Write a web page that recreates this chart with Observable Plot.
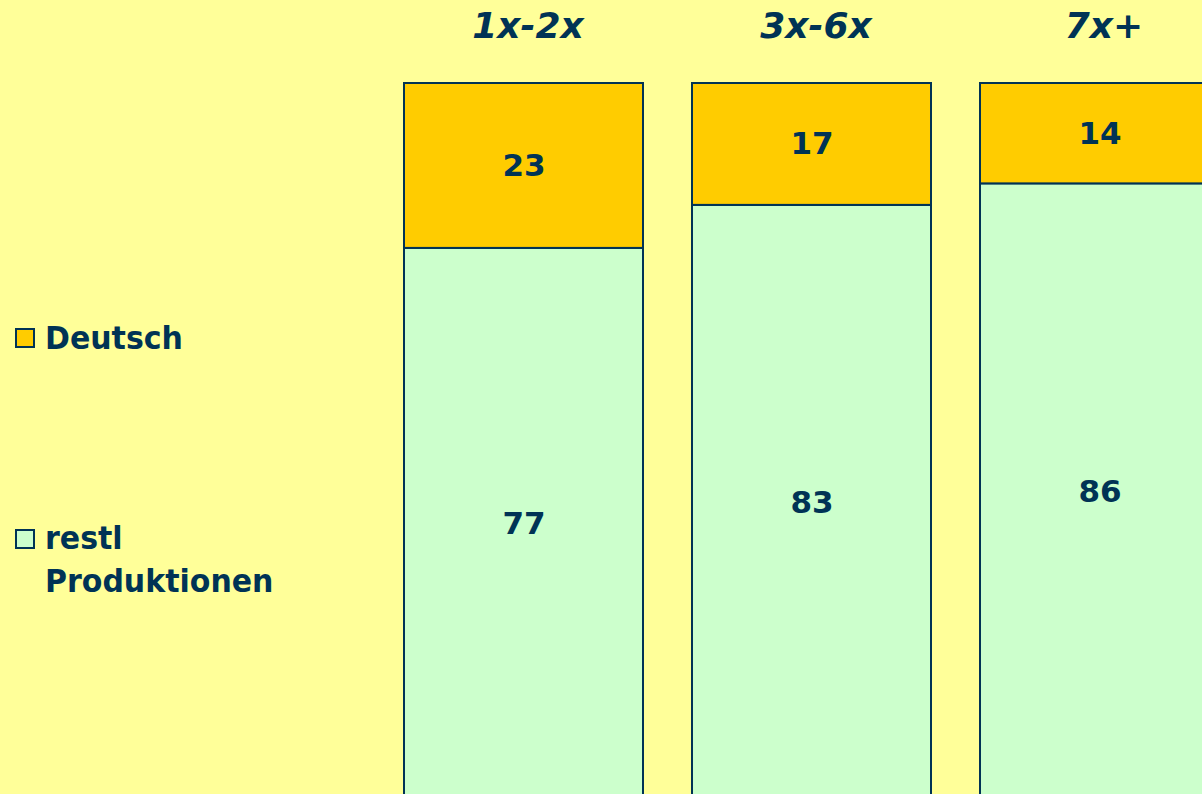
<!DOCTYPE html>
<html><head><meta charset="utf-8">
<script src="https://cdn.jsdelivr.net/npm/d3@7"></script>
<script src="https://cdn.jsdelivr.net/npm/@observablehq/plot@0.6"></script>
<style>
html,body{margin:0;padding:0;background:#FFFF99;overflow:hidden;width:1202px;height:794px}
#wrap{position:relative;width:1202px;height:794px}
.leg{position:absolute;left:0;font-family:"DejaVu Sans",sans-serif;font-weight:bold;color:#003355;font-size:30px;line-height:40px}
.leg .sw{position:absolute;left:15px;top:9px;width:16px;height:16px;border:2px solid #003355}
.leg .tx{position:absolute;left:45px;top:0;white-space:nowrap;transform:scaleY(1.05);transform-origin:0 50%}
#chart{position:absolute;left:0;top:0}
</style></head><body><div id="wrap"><div id="chart"></div></div>
<script>
const groups = ["1x-2x", "3x-6x", "7x+"];
const series = ["restl Produktionen", "Deutsch"];
const restl = [77, 83, 86];
const deutsch = [23, 17, 14];
const colors = ["#CCFFCC", "#FFCC00"];
const ink = "#003355";

const data = groups.flatMap((g, i) => [
  {group: g, series: series[0], value: restl[i]},
  {group: g, series: series[1], value: deutsch[i]}
]);

const plot = Plot.plot({
  width: 1202, height: 800, margin: 0,
  style: {background: "transparent", overflow: "visible"},
  x: {domain: groups, range: [379.5, 1243.5], paddingInner: 0.17, paddingOuter: 0.085, axis: null},
  y: {domain: [0, 100], range: [800, 83], axis: null},
  color: {domain: series, range: colors},
  marks: [
    Plot.barY(data, Plot.stackY({x: "group", y: "value", fill: "series", z: "series", stroke: ink, strokeWidth: 2})),
    Plot.text(data, Plot.stackY({x: "group", y: "value", z: "series", text: d => String(d.value),
      fill: ink, fontSize: 31, fontWeight: "bold", fontFamily: "DejaVu Sans"})),
    Plot.text(groups, {x: d => d, text: d => d, frameAnchor: "top", lineAnchor: "middle", dy: 26, dx: 4,
      fill: ink, fontSize: 36, fontWeight: "bold", fontStyle: "italic", fontFamily: "DejaVu Sans"})
  ]
});
document.getElementById("chart").appendChild(plot);

const wrap = document.getElementById("wrap");
const legendItems = [
  {label: ["Deutsch"], color: colors[1], top: 319},
  {label: ["restl", "Produktionen"], color: colors[0], top: 520}
];
for (const it of legendItems) {
  const d = document.createElement("div");
  d.className = "leg";
  d.style.top = it.top + "px";
  d.innerHTML = `<div class="sw" style="background:${it.color}"></div><div class="tx">${it.label.join("<br>")}</div>`;
  wrap.appendChild(d);
}
</script>
</body></html>
